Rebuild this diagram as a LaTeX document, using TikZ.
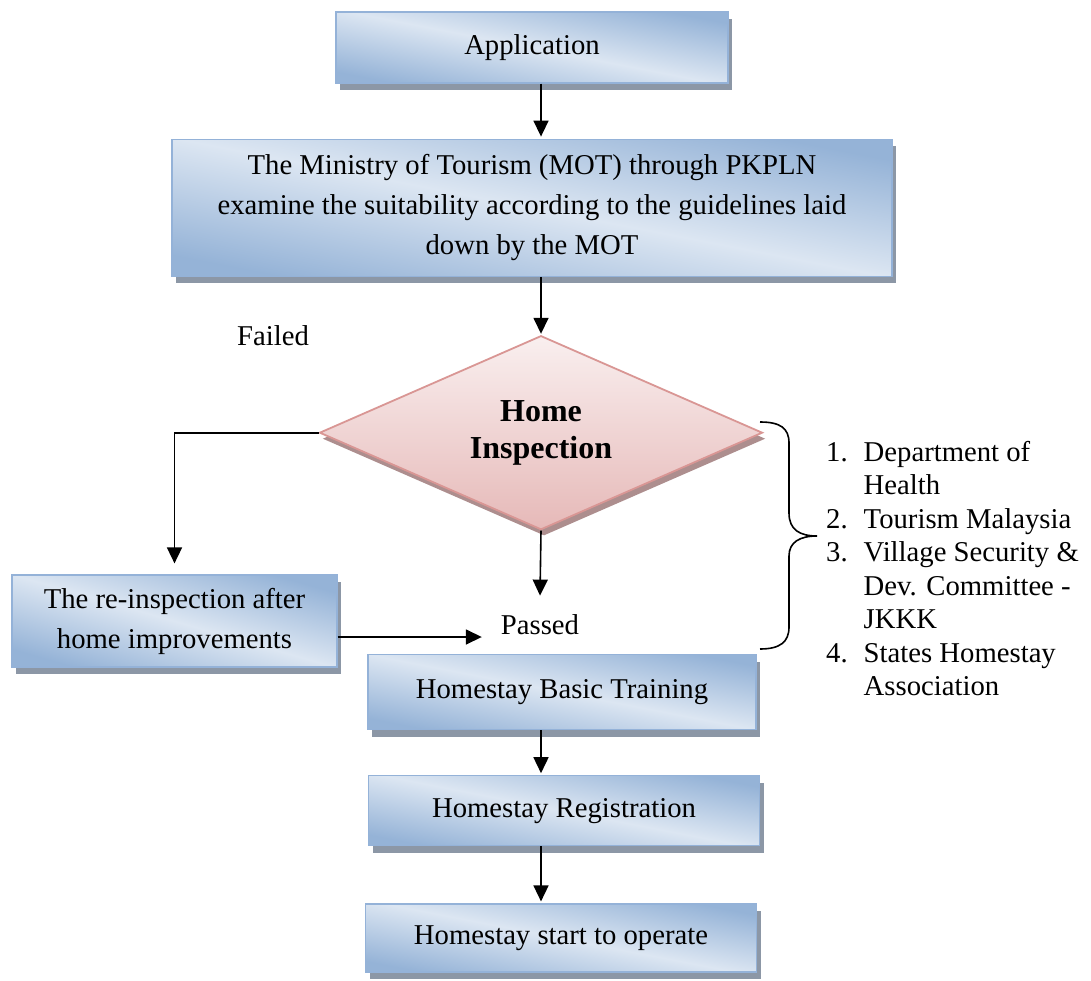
\documentclass[tikz,border=0pt]{standalone}
\usepackage{fontspec}
\setmainfont{Liberation Serif}
\usetikzlibrary{shapes.geometric, arrows.meta, positioning, shadows}
\definecolor{boxlight}{HTML}{DCE6F2}
\definecolor{boxdark}{HTML}{95B3D7}
\definecolor{boxborder}{HTML}{94B2D8}
\definecolor{boxshadow}{HTML}{8C97A6}
\definecolor{diatop}{HTML}{F9EFEF}
\definecolor{diabottom}{HTML}{E6B9B8}
\definecolor{diaborder}{HTML}{D99694}
\definecolor{diashadow}{HTML}{AD8E8E}
\tikzset{
    stage/.style={
        rectangle, draw=boxborder, line width=1.2pt, inner sep=0pt,
        top color=boxdark, bottom color=boxdark, middle color=boxlight, shading angle=-11,
        drop shadow={shadow xshift=4pt, shadow yshift=-7pt, fill=boxshadow, opacity=1},
        align=center, font=\fontsize{28.7}{40}\selectfont
    },
    check/.style={
        diamond, aspect=2.3, draw=diaborder, line width=1.8pt, inner sep=0pt,
        top color=diatop, bottom color=diabottom,
        drop shadow={shadow xshift=3pt, shadow yshift=-6pt, fill=diashadow, opacity=1},
        align=center, font=\bfseries\fontsize{32}{37}\selectfont
    },
    note/.style={
        inner sep=0pt, font=\fontsize{28.7}{33.5}\selectfont
    },
    arrow/.style={
        -{Triangle[length=16pt, width=15pt]}, line width=1.6pt, draw=black
    },
    bracestroke/.style={
        line width=1.6pt, draw=black
    }
}
\begin{document}
\begin{tikzpicture}[x=1pt, y=-1pt]

    \useasboundingbox (0,0) rectangle (1091,981);

    \node[stage, minimum width=392pt, minimum height=71pt] (app) at (532,47.5) {Application};
    \node[stage, minimum width=720pt, minimum height=137pt, below=55pt of app] (mot)
        {The Ministry of Tourism (MOT) through PKPLN\\examine the suitability according to the guidelines laid\\down by the MOT};
    \node[check, minimum width=443pt, minimum height=194pt, below=58pt of mot, xshift=9pt] (insp) {Home\\Inspection};
    \node[note, minimum width=116pt, minimum height=58pt, fill=white, below=65pt of insp, xshift=-1pt] (passed) {Passed};
    \node[stage, minimum width=388pt, minimum height=75pt, below=0pt of passed, xshift=22pt] (train) {Homestay Basic Training};
    \node[stage, minimum width=391pt, minimum height=70pt, below=45pt of train, xshift=2pt] (reg) {Homestay Registration};
    \node[stage, minimum width=391pt, minimum height=68pt, below=57pt of reg, xshift=-3pt] (oper) {Homestay start to operate};
    \node[stage, shading angle=-16, minimum width=325pt, minimum height=92pt] (reinsp) at (174.5,621) {The re-inspection after\\home improvements};
    \node[note] (failed) at (273,336) {Failed};

    \draw[arrow, shorten >=2pt] (app.south -| insp.north) -- (mot.north -| insp.north);
    \draw[arrow, shorten >=1pt] (mot.south -| insp.north) -- (insp.north);
    \draw[arrow] (insp.south) -- (passed.north);
    \draw[arrow, shorten >=11pt] (insp.west) -| (reinsp.north);
    \draw[arrow] ([yshift=-16pt]reinsp.east) -- ([yshift=-16pt]reinsp.east -| passed.west);
    \draw[arrow, shorten >=2pt] (train.south -| insp.north) -- (reg.north -| insp.north);
    \draw[arrow, shorten >=2pt] (reg.south -| insp.north) -- (oper.north -| insp.north);

    % agencies taking part in the inspection
    \coordinate (bracetop) at (760,422);
    \coordinate (bracebot) at (760,649);
    \draw[bracestroke] (bracetop) .. controls (780,422) and (789,428) .. (789,443) -- (789,513)
        .. controls (789,530) and (800,536) .. (817,536)
        .. controls (800,536) and (789,542) .. (789,556) -- (789,627)
        .. controls (789,642) and (780,649) .. (bracebot);
    \node[note, anchor=base west] (agencies) at (826,461)
        {\begin{tabular}[t]{@{}l@{\hspace{16pt}}l@{}}
            1. & Department of\\
               & Health\\
            2. & Tourism Malaysia\\
            3. & Village Security \&\\
               & Dev. Committee -\\
               & JKKK\\
            4. & States Homestay\\
               & Association
        \end{tabular}};

\end{tikzpicture}
\end{document}
